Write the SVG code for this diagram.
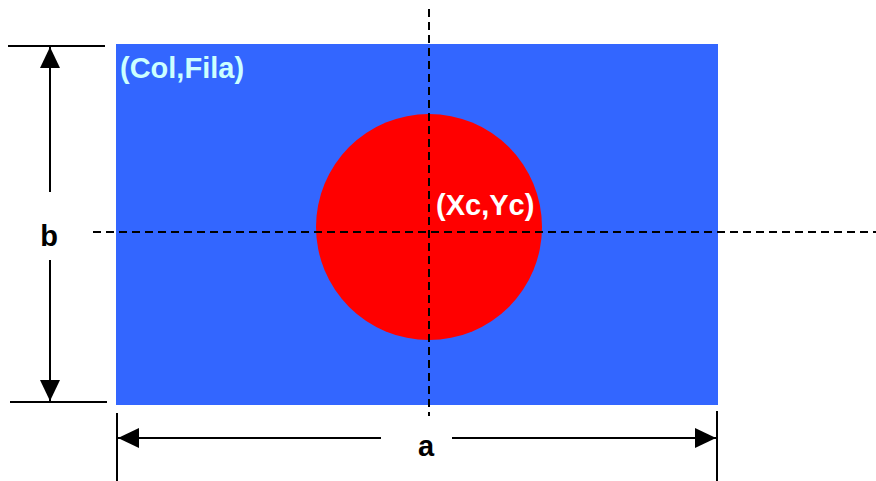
<svg xmlns="http://www.w3.org/2000/svg" width="876" height="481" viewBox="0 0 876 481">
<style>
.t{font-family:"Liberation Sans",Arial,sans-serif;font-weight:bold;font-size:29px}
.ln{stroke:#000;stroke-width:2;fill:none}
.dash{stroke:#000;stroke-width:2;stroke-dasharray:8,5;fill:none}
</style>
<defs>
<marker id="ah" viewBox="0 0 21 20" refX="21" refY="10" markerWidth="21" markerHeight="20" markerUnits="userSpaceOnUse" orient="auto">
<path d="M0,0 L21,10 L0,20 Z" fill="#000"/>
</marker>
</defs>
<g id="rect"><rect x="116" y="44" width="602" height="361" fill="#3366FF"/>
<text class="t" x="120" y="78" fill="#CCFFFF">(Col,Fila)</text></g>
<g id="circle"><circle cx="429" cy="227" r="113" fill="#FF0000"/>
<text class="t" x="436" y="215" fill="#FFFFFF">(Xc,Yc)</text></g>
<g id="connectors">
<line class="dash" x1="429" y1="9" x2="429" y2="416"/>
<line class="dash" x1="93" y1="232" x2="876" y2="232"/>
<line class="ln" x1="8" y1="46" x2="105" y2="46"/>
<line class="ln" x1="10" y1="402" x2="107" y2="402"/>
<line class="ln" x1="50" y1="192" x2="50" y2="47" marker-end="url(#ah)"/>
<line class="ln" x1="50" y1="260" x2="50" y2="401" marker-end="url(#ah)"/>
<line class="ln" x1="117" y1="413" x2="117" y2="481"/>
<line class="ln" x1="717" y1="411" x2="717" y2="481"/>
<line class="ln" x1="381" y1="438" x2="118" y2="438" marker-end="url(#ah)"/>
<line class="ln" x1="452" y1="438" x2="716" y2="438" marker-end="url(#ah)"/>
</g>
<g id="labels">
<text class="t" x="49" y="246" text-anchor="middle">b</text>
<text class="t" x="426" y="456" text-anchor="middle">a</text>
</g>
</svg>
